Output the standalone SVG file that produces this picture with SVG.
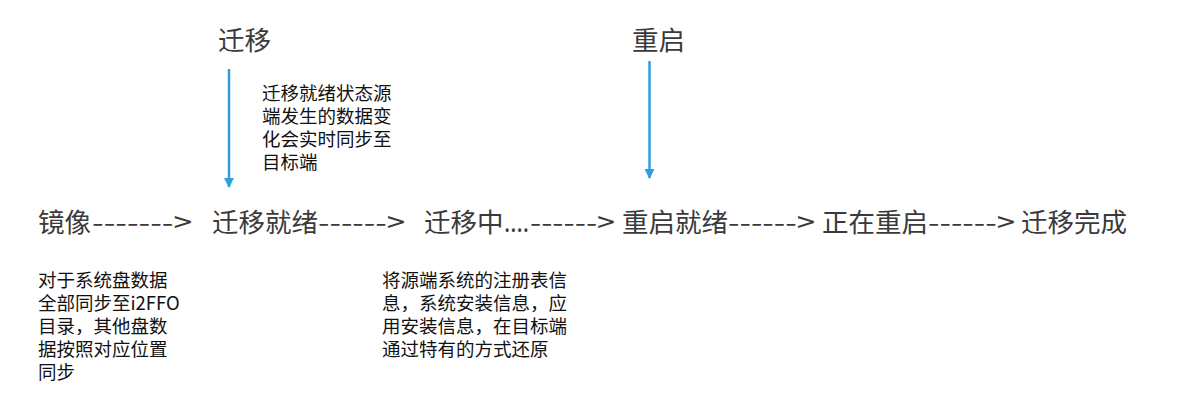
<svg xmlns="http://www.w3.org/2000/svg" width="1200" height="411" viewBox="0 0 1200 411">
<style>
.main{font-family:"Noto Sans CJK SC","Noto Sans",sans-serif;font-size:26.5px;fill:#3a3a3a}
.note{font-family:"Noto Sans CJK SC","Noto Sans",sans-serif;font-size:18.5px;fill:#111}
.arr{stroke:#2ea0dc;stroke-width:2.5;fill:none}
</style>
<defs>
<marker id="ah" viewBox="0 0 10 10" refX="9" refY="5" markerWidth="4" markerHeight="4" orient="auto" markerUnits="strokeWidth">
<path d="M0,0 L10,5 L0,10 z" fill="#2ea0dc"/>
</marker>
</defs>
<rect width="1200" height="411" fill="#fff"/>
<g id="connectors">
<line class="arr" x1="229" y1="69" x2="229" y2="187" marker-end="url(#ah)"/>
<line class="arr" x1="649.5" y1="61" x2="649.5" y2="178" marker-end="url(#ah)"/>
</g>
<g id="label-qianyi"><text class="main" x="218" y="50">迁移</text></g>
<g id="label-chongqi"><text class="main" x="632" y="50">重启</text></g>
<g id="flow">
<text class="main" y="232"><tspan x="38">镜像</tspan><tspan x="92" textLength="100" lengthAdjust="spacingAndGlyphs">-------&gt;</tspan><tspan x="212">迁移就绪</tspan><tspan x="318" textLength="87" lengthAdjust="spacingAndGlyphs">------&gt;</tspan><tspan x="424">迁移中</tspan><tspan x="504" textLength="25" lengthAdjust="spacingAndGlyphs">....</tspan><tspan x="530" textLength="85" lengthAdjust="spacingAndGlyphs">------&gt;</tspan><tspan x="622">重启就绪</tspan><tspan x="728" textLength="87" lengthAdjust="spacingAndGlyphs">------&gt;</tspan><tspan x="822">正在重启</tspan><tspan x="928" textLength="87" lengthAdjust="spacingAndGlyphs">------&gt;</tspan><tspan x="1021">迁移完成</tspan></text>
</g>
<g id="note-sync">
<text class="note" x="262" y="100">迁移就绪状态源</text>
<text class="note" x="262" y="123">端发生的数据变</text>
<text class="note" x="262" y="146">化会实时同步至</text>
<text class="note" x="262" y="169">目标端</text>
</g>
<g id="note-mirror">
<text class="note" x="38" y="287">对于系统盘数据</text>
<text class="note" x="38" y="310">全部同步至i2FFO</text>
<text class="note" x="38" y="333">目录，其他盘数</text>
<text class="note" x="38" y="356">据按照对应位置</text>
<text class="note" x="38" y="379">同步</text>
</g>
<g id="note-restore">
<text class="note" x="382" y="287">将源端系统的注册表信</text>
<text class="note" x="382" y="310">息，系统安装信息，应</text>
<text class="note" x="382" y="333">用安装信息，在目标端</text>
<text class="note" x="382" y="356">通过特有的方式还原</text>
</g>
</svg>
